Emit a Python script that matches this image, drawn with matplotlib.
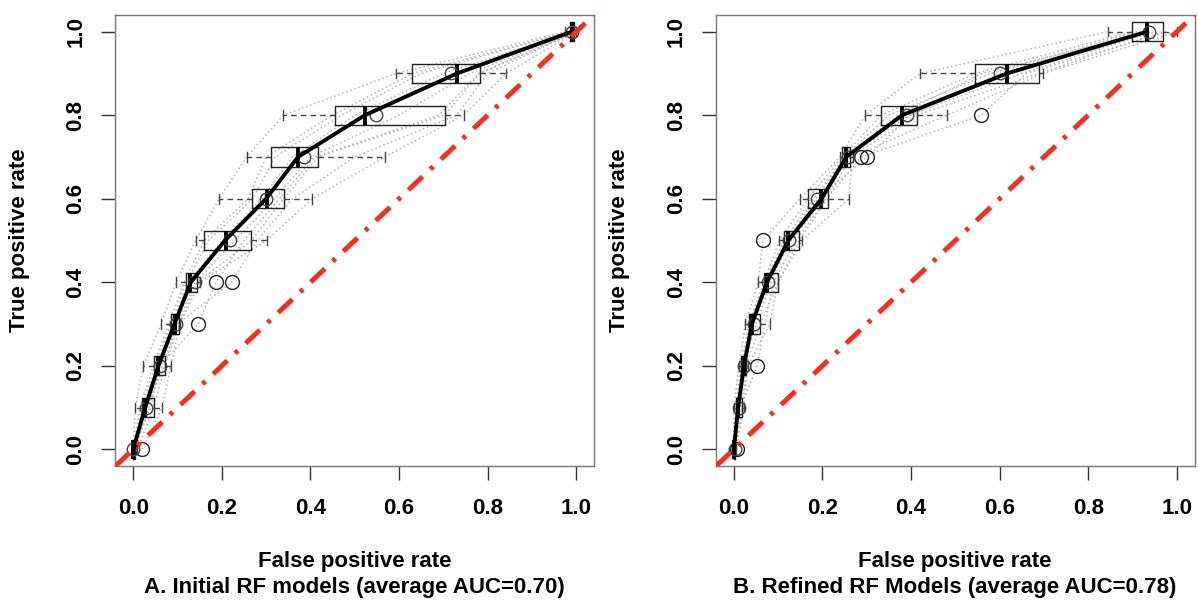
import matplotlib
matplotlib.use("Agg")
from matplotlib import pyplot as plt

# TPR levels where the FPR spread is summarised
tpr_levels = [0.0, 0.1, 0.2, 0.3, 0.4, 0.5, 0.6, 0.7, 0.8, 0.9, 1.0]

# --- Panel A: initial RF models ---
# box stats per level: whislo, q1, med, q3, whishi
a_whislo = [0.000, 0.005, 0.023, 0.063, 0.097, 0.141, 0.194, 0.256, 0.339, 0.594, 0.975]
a_q1 = [0.000, 0.020, 0.048, 0.085, 0.119, 0.160, 0.269, 0.311, 0.456, 0.630, 0.985]
a_med = [0.000, 0.027, 0.057, 0.095, 0.128, 0.209, 0.301, 0.372, 0.523, 0.731, 0.990]
a_q3 = [0.004, 0.046, 0.072, 0.104, 0.145, 0.267, 0.340, 0.417, 0.703, 0.782, 0.995]
a_whishi = [0.008, 0.065, 0.085, 0.106, 0.150, 0.301, 0.404, 0.568, 0.746, 0.842, 1.000]
a_fliers = [[0.020], [], [], [0.147], [0.187, 0.222], [], [], [], [], [], []]
a_mean = [0.000, 0.030, 0.060, 0.096, 0.140, 0.218, 0.300, 0.385, 0.547, 0.718, 0.990]
a_avg = [0.000, 0.027, 0.057, 0.093, 0.130, 0.207, 0.300, 0.372, 0.523, 0.731, 0.990]
a_curves = [
    [0.000, 0.005, 0.023, 0.063, 0.097, 0.141, 0.194, 0.256, 0.339, 0.594, 0.975],
    [0.000, 0.015, 0.045, 0.080, 0.115, 0.160, 0.260, 0.300, 0.450, 0.630, 0.985],
    [0.000, 0.020, 0.050, 0.085, 0.120, 0.170, 0.270, 0.320, 0.470, 0.650, 0.985],
    [0.000, 0.025, 0.055, 0.090, 0.125, 0.200, 0.290, 0.360, 0.500, 0.700, 0.990],
    [0.000, 0.027, 0.057, 0.095, 0.128, 0.210, 0.301, 0.372, 0.523, 0.731, 0.990],
    [0.005, 0.035, 0.065, 0.100, 0.140, 0.230, 0.320, 0.400, 0.600, 0.760, 0.995],
    [0.010, 0.046, 0.072, 0.104, 0.145, 0.267, 0.340, 0.417, 0.703, 0.782, 1.000],
    [0.020, 0.065, 0.085, 0.106, 0.150, 0.301, 0.404, 0.568, 0.746, 0.842, 1.000],
    [0.000, 0.040, 0.060, 0.147, 0.187, 0.250, 0.330, 0.410, 0.690, 0.780, 1.000],
    [0.000, 0.030, 0.070, 0.100, 0.222, 0.280, 0.360, 0.500, 0.730, 0.800, 1.000],
]

# --- Panel B: refined RF models ---
b_whislo = [0.000, 0.000, 0.012, 0.026, 0.055, 0.103, 0.149, 0.240, 0.297, 0.421, 0.845]
b_q1 = [0.000, 0.004, 0.017, 0.034, 0.068, 0.113, 0.167, 0.245, 0.333, 0.545, 0.899]
b_med = [0.000, 0.010, 0.023, 0.041, 0.075, 0.123, 0.198, 0.254, 0.380, 0.617, 0.933]
b_q3 = [0.003, 0.019, 0.028, 0.060, 0.100, 0.147, 0.212, 0.263, 0.414, 0.690, 0.968]
b_whishi = [0.005, 0.022, 0.032, 0.081, 0.100, 0.154, 0.260, 0.268, 0.481, 0.698, 1.000]
b_fliers = [[0.007], [], [0.053], [], [], [0.066], [], [0.288, 0.301], [0.559], [], []]
b_mean = [0.002, 0.011, 0.024, 0.045, 0.078, 0.125, 0.188, 0.258, 0.391, 0.602, 0.937]
b_avg = [0.000, 0.010, 0.023, 0.041, 0.075, 0.123, 0.198, 0.254, 0.380, 0.617, 0.933]
b_curves = [
    [0.000, 0.000, 0.012, 0.026, 0.055, 0.066, 0.149, 0.240, 0.297, 0.421, 0.845],
    [0.000, 0.004, 0.017, 0.034, 0.068, 0.103, 0.167, 0.245, 0.333, 0.545, 0.899],
    [0.000, 0.008, 0.020, 0.038, 0.070, 0.113, 0.180, 0.250, 0.350, 0.580, 0.910],
    [0.000, 0.010, 0.023, 0.041, 0.075, 0.123, 0.198, 0.254, 0.380, 0.617, 0.933],
    [0.000, 0.012, 0.025, 0.045, 0.080, 0.130, 0.205, 0.258, 0.395, 0.650, 0.950],
    [0.003, 0.019, 0.028, 0.060, 0.100, 0.147, 0.212, 0.263, 0.414, 0.690, 0.968],
    [0.005, 0.022, 0.032, 0.081, 0.100, 0.154, 0.260, 0.268, 0.481, 0.698, 1.000],
    [0.007, 0.015, 0.053, 0.070, 0.090, 0.140, 0.210, 0.288, 0.559, 0.660, 0.980],
    [0.000, 0.010, 0.022, 0.050, 0.085, 0.120, 0.190, 0.301, 0.400, 0.600, 0.920],
    [0.000, 0.006, 0.020, 0.040, 0.072, 0.118, 0.185, 0.252, 0.370, 0.560, 0.940],
]

tick_vals = [0.0, 0.2, 0.4, 0.6, 0.8, 1.0]
tick_text = ["0.0", "0.2", "0.4", "0.6", "0.8", "1.0"]

plt.rcParams['font.family'] = ['Liberation Sans', 'DejaVu Sans']
plt.rcParams['font.weight'] = 'bold'
FS = 16

fig = plt.figure(figsize=(11.98, 6.03), dpi=100)
ax_a = fig.add_axes([0.0964, 0.2272, 0.3994, 0.748])
ax_b = fig.add_axes([0.5977, 0.2272, 0.3994, 0.748])


def draw_panel(ax, whislo, q1, med, q3, whishi, fliers, means, avg, curves):
    # individual model curves
    for c in curves:
        ax.plot(c, tpr_levels, color='#b4b4b4', lw=1.1, ls=(0, (1, 1.8)), zorder=1)

    stats = []
    for i in range(len(tpr_levels)):
        stats.append({'whislo': whislo[i], 'q1': q1[i], 'med': med[i],
                      'q3': q3[i], 'whishi': whishi[i], 'fliers': fliers[i]})
    ax.bxp(stats, positions=tpr_levels, widths=0.046, orientation='horizontal',
           manage_ticks=False, patch_artist=False,
           boxprops=dict(color='#222222', lw=1.0),
           whiskerprops=dict(color='#444444', lw=1.0, ls=(0, (4, 3))),
           capprops=dict(color='#444444', lw=1.0),
           medianprops=dict(color='black', lw=2.8),
           flierprops=dict(marker='o', markerfacecolor='none',
                           markeredgecolor='#222222', markersize=10, mew=1.0),
           zorder=2)

    ax.plot(means, tpr_levels, 'o', mfc='none', mec='#444444', ms=9, mew=1.0, zorder=3)
    ax.plot(avg, tpr_levels, color='black', lw=2.8, zorder=4)

    # chance line
    ax.plot([-0.04, 1.04], [-0.04, 1.04], color='#ff2a1a', lw=3.5,
            dashes=(4, 2.2, 0.8, 2.2), zorder=5)

    ax.set_xlim(-0.04, 1.04)
    ax.set_ylim(-0.04, 1.04)
    ax.set_xticks(tick_vals)
    ax.set_xticklabels(tick_text)
    ax.set_yticks(tick_vals)
    ax.set_yticklabels(tick_text, rotation=90, va='center')
    ax.tick_params(direction='out', length=10, width=1, labelsize=FS, color='#333333')
    ax.tick_params(axis='x', pad=13)
    ax.tick_params(axis='y', pad=11)
    for s in ax.spines.values():
        s.set_color('#777777')
        s.set_linewidth(1)


draw_panel(ax_a, a_whislo, a_q1, a_med, a_q3, a_whishi, a_fliers, a_mean, a_avg, a_curves)
draw_panel(ax_b, b_whislo, b_q1, b_med, b_q3, b_whishi, b_fliers, b_mean, b_avg, b_curves)

# labels
for cx, sub in [(0.296, "A. Initial RF models (average AUC=0.70)"),
                (0.797, "B. Refined RF Models (average AUC=0.78)")]:
    fig.text(cx, 0.068, "False positive rate", ha='center', va='center', fontsize=FS, weight='bold')
    fig.text(cx, 0.025, sub, ha='center', va='center', fontsize=FS, weight='bold')

fig.text(20 / 1198, 0.602, "True positive rate", rotation=90, ha='center', va='center',
         fontsize=FS, weight='bold')
fig.text(620 / 1198, 0.602, "True positive rate", rotation=90, ha='center', va='center',
         fontsize=FS, weight='bold')

fig.savefig("out.png", dpi=100)
